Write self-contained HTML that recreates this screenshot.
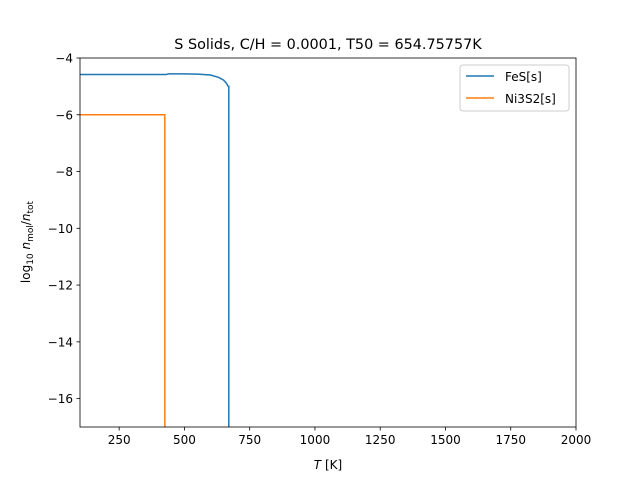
<!DOCTYPE html>
<html><head><meta charset="utf-8"><style>
html,body{margin:0;padding:0;background:#fff;}
svg{display:block;font-family:"DejaVu Sans","Liberation Sans",sans-serif;}
</style></head><body>
<svg id="chart" width="640" height="480">
<rect width="640" height="480" fill="#fff"/>
<text x="328" y="49" font-size="14.4" text-anchor="middle">S Solids, C/H = 0.0001, T50 = 654.75757K</text>
<g id="plot"></g>
<g id="axes"></g>
<text x="328" y="469" font-size="12" text-anchor="middle"><tspan font-style="italic">T</tspan> [K]</text>
<text transform="translate(30,242) rotate(-90)" font-size="12" text-anchor="middle">log<tspan font-size="9" dy="3">10</tspan><tspan dy="-3"> </tspan><tspan font-style="italic">n</tspan><tspan font-size="9" dy="3">mol</tspan><tspan dy="-3">/</tspan><tspan font-style="italic">n</tspan><tspan font-size="9" dy="3">tot</tspan></text>
<g>
<rect x="460" y="65" width="109" height="46" fill="#fff" stroke="#ccc" rx="3"/>
<line x1="466" y1="76" x2="494" y2="76" stroke="#1f77b4" stroke-width="1.5"/>
<text x="505" y="81" font-size="12">FeS[s]</text>
<line x1="466" y1="98" x2="494" y2="98" stroke="#ff7f0e" stroke-width="1.5"/>
<text x="505" y="103" font-size="12">Ni3S2[s]</text>
</g>
</svg>
<script>
const xTicks=[250,500,750,1000,1250,1500,1750,2000];
const yTicks=[-4,-6,-8,-10,-12,-14,-16];
const fesT=[100,430,440,500,550,600,630,650,660,668,670,670];
const fesV=[-4.58,-4.58,-4.56,-4.56,-4.57,-4.6,-4.68,-4.78,-4.88,-5.0,-5.0,-17.5];
const niT=[100,425,425];
const niV=[-6,-6,-17.5];
const L=80,R=576,T=58,B=427,xmin=100,xmax=2000,ymin=-17,ymax=-4;
const sx=v=>L+(v-xmin)/(xmax-xmin)*(R-L);
const sy=v=>B-(v-ymin)/(ymax-ymin)*(B-T);
const NS="http://www.w3.org/2000/svg";
const plot=document.getElementById('plot'),axes=document.getElementById('axes');
const cp=document.createElementNS(NS,'clipPath');cp.id='cp';
const cr=document.createElementNS(NS,'rect');cr.setAttribute('x',L);cr.setAttribute('y',T);cr.setAttribute('width',R-L);cr.setAttribute('height',B-T);
cp.appendChild(cr);plot.appendChild(cp);
function line(ts,vs,c,name){const p=document.createElementNS(NS,'polyline');
p.setAttribute('points',ts.map((t,i)=>sx(t)+','+sy(vs[i])).join(' '));
p.setAttribute('fill','none');p.setAttribute('stroke',c);p.setAttribute('stroke-width','1.5');p.setAttribute('clip-path','url(#cp)');


plot.appendChild(p);}
line(fesT,fesV,'#1f77b4','fes-line');
line(niT,niV,'#ff7f0e','ni3s2-line');
const fr=document.createElementNS(NS,'rect');fr.setAttribute('x',L);fr.setAttribute('y',T);fr.setAttribute('width',R-L);fr.setAttribute('height',B-T);fr.setAttribute('fill','none');fr.setAttribute('stroke','#000');fr.setAttribute('stroke-width','0.8');


axes.appendChild(fr);
xTicks.forEach(t=>{const x=sx(t);const l=document.createElementNS(NS,'line');l.setAttribute('x1',x);l.setAttribute('x2',x);l.setAttribute('y1',B);l.setAttribute('y2',B+3.5);l.setAttribute('stroke','#000');l.setAttribute('stroke-width','0.8');axes.appendChild(l);
const tx=document.createElementNS(NS,'text');tx.setAttribute('x',x);tx.setAttribute('y',B+17);tx.setAttribute('font-size','12');tx.setAttribute('text-anchor','middle');tx.textContent=t;


axes.appendChild(tx);});
yTicks.forEach(t=>{const y=sy(t);const l=document.createElementNS(NS,'line');l.setAttribute('x1',L-3.5);l.setAttribute('x2',L);l.setAttribute('y1',y);l.setAttribute('y2',y);l.setAttribute('stroke','#000');l.setAttribute('stroke-width','0.8');axes.appendChild(l);
const tx=document.createElementNS(NS,'text');tx.setAttribute('x',L-7);tx.setAttribute('y',y+4.5);tx.setAttribute('font-size','12');tx.setAttribute('text-anchor','end');tx.textContent=String(t).replace('-','\u2212');


axes.appendChild(tx);});
</script>
</body></html>
